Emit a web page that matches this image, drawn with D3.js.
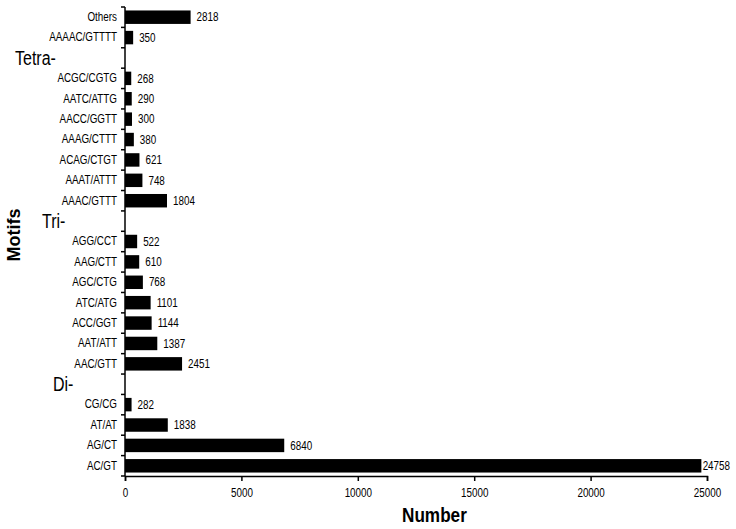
<!DOCTYPE html>
<html lang="en">
<head>
<meta charset="utf-8">
<title>Motifs</title>
<script src="https://cdn.jsdelivr.net/npm/d3@7"></script>
<style>
  body { margin: 0; background: white; }
  svg { display: block; font-family: "Liberation Sans", Arial, sans-serif; }
  .axis path, .axis line { stroke: black; stroke-width: 1.5; fill: none; }
  .axis text { font-size: 12px; fill: black; font-family: "Liberation Sans", Arial, sans-serif; }
  .val { font-size: 12px; fill: black; }
  .group { font-size: 19.5px; fill: black; }
  .title { font-weight: bold; fill: black; }
</style>
</head>
<body>
<svg id="chart"></svg>
<script>
// rows from top to bottom, blank rows hold the group headings
var motifs = ["Others", "AAAAC/GTTTT", "", "ACGC/CGTG", "AATC/ATTG", "AACC/GGTT", "AAAG/CTTT",
  "ACAG/CTGT", "AAAT/ATTT", "AAAC/GTTT", "", "AGG/CCT", "AAG/CTT", "AGC/CTG", "ATC/ATG",
  "ACC/GGT", "AAT/ATT", "AAC/GTT", "", "CG/CG", "AT/AT", "AG/CT", "AC/GT"];
var counts = [2818, 350, null, 268, 290, 300, 380, 621, 748, 1804, null, 522, 610, 768, 1101,
  1144, 1387, 2451, null, 282, 1838, 6840, 24758];
var groups = ["Tetra-", "Tri-", "Di-"];
var groupOffsets = [15, 42, 53];
var xTicks = [0, 5000, 10000, 15000, 20000, 25000];

var W = 736, H = 529;
var margin = {top: 7, right: 29, bottom: 53, left: 125};
var width = W - margin.left - margin.right;
var height = H - margin.top - margin.bottom;

// the original uses a narrow face; squeeze Liberation Sans to match
function condense(k) {
  return function() {
    var len = this.getComputedTextLength();
    d3.select(this).attr("textLength", len * k).attr("lengthAdjust", "spacingAndGlyphs");
  };
}

var svg = d3.select("#chart").attr("width", W).attr("height", H);
var g = svg.append("g").attr("transform", "translate(" + margin.left + "," + margin.top + ")");

var x = d3.scaleLinear().domain([0, 25000]).range([0, width]);
var y = d3.scaleBand().domain(d3.range(motifs.length)).range([0, height]).paddingInner(0.34).paddingOuter(0.17);

// bars
var rows = motifs.map(function(m, i) { return {i: i, name: m, v: counts[i]}; })
  .filter(function(d) { return d.v !== null; });

g.selectAll("rect.bar").data(rows).enter().append("rect")
  .attr("class", "bar")
  .attr("x", 0)
  .attr("y", function(d) { return y(d.i); })
  .attr("width", function(d) { return x(d.v); })
  .attr("height", y.bandwidth())
  .attr("fill", "black");

// value labels
g.selectAll("text.val").data(rows).enter().append("text")
  .attr("class", "val")
  .attr("y", function(d) { return y(d.i) + y.bandwidth() / 2; })
  .attr("dy", "0.35em")
  .text(function(d) { return d.v; })
  .each(condense(0.82))
  .attr("x", function(d) {
    var w = this.getComputedTextLength();
    return Math.min(x(d.v) + 6, W - margin.left - w - 6);
  });

// x axis
g.append("g")
  .attr("class", "axis")
  .attr("transform", "translate(0," + height + ")")
  .call(d3.axisBottom(x).tickValues(xTicks).tickSize(5).tickSizeOuter(5).tickFormat(d3.format("d")))
  .selectAll("text").attr("dy", "1.1em").each(condense(0.82));

// y axis: labels at band centres, tick marks at band boundaries
var yAxis = g.append("g").attr("class", "axis")
  .call(d3.axisLeft(y).tickSize(0).tickPadding(8).tickFormat(function(i) { return motifs[i]; }));
yAxis.select(".domain").attr("d", "M0,0V" + height);
yAxis.selectAll(".tick text").each(condense(0.82));
var step = y.step();
yAxis.selectAll("line.edge").data(d3.range(motifs.length + 1)).enter().append("line")
  .attr("class", "edge")
  .attr("x1", -4).attr("x2", 0)
  .attr("y1", function(i) { return i * step; })
  .attr("y2", function(i) { return i * step; });

// group headings sit in the blank rows
var blanks = motifs.map(function(m, i) { return m === "" ? i : -1; }).filter(function(i) { return i >= 0; });
svg.selectAll("text.group").data(blanks).enter().append("text")
  .attr("class", "group")
  .attr("x", function(d, k) { return groupOffsets[k]; })
  .attr("y", function(d) { return margin.top + y(d) + y.bandwidth() / 2; })
  .attr("dy", "0.35em")
  .text(function(d, k) { return groups[k]; })
  .each(condense(0.82));

// axis titles
svg.append("text").attr("class", "title")
  .attr("x", 402)
  .attr("y", 522)
  .style("font-size", "19.5px")
  .text("Number")
  .each(condense(0.88));

svg.append("text").attr("class", "title")
  .attr("transform", "translate(20,235) rotate(-90)")
  .attr("text-anchor", "middle")
  .style("font-size", "18px")
  .text("Motifs");
</script>
</body>
</html>
